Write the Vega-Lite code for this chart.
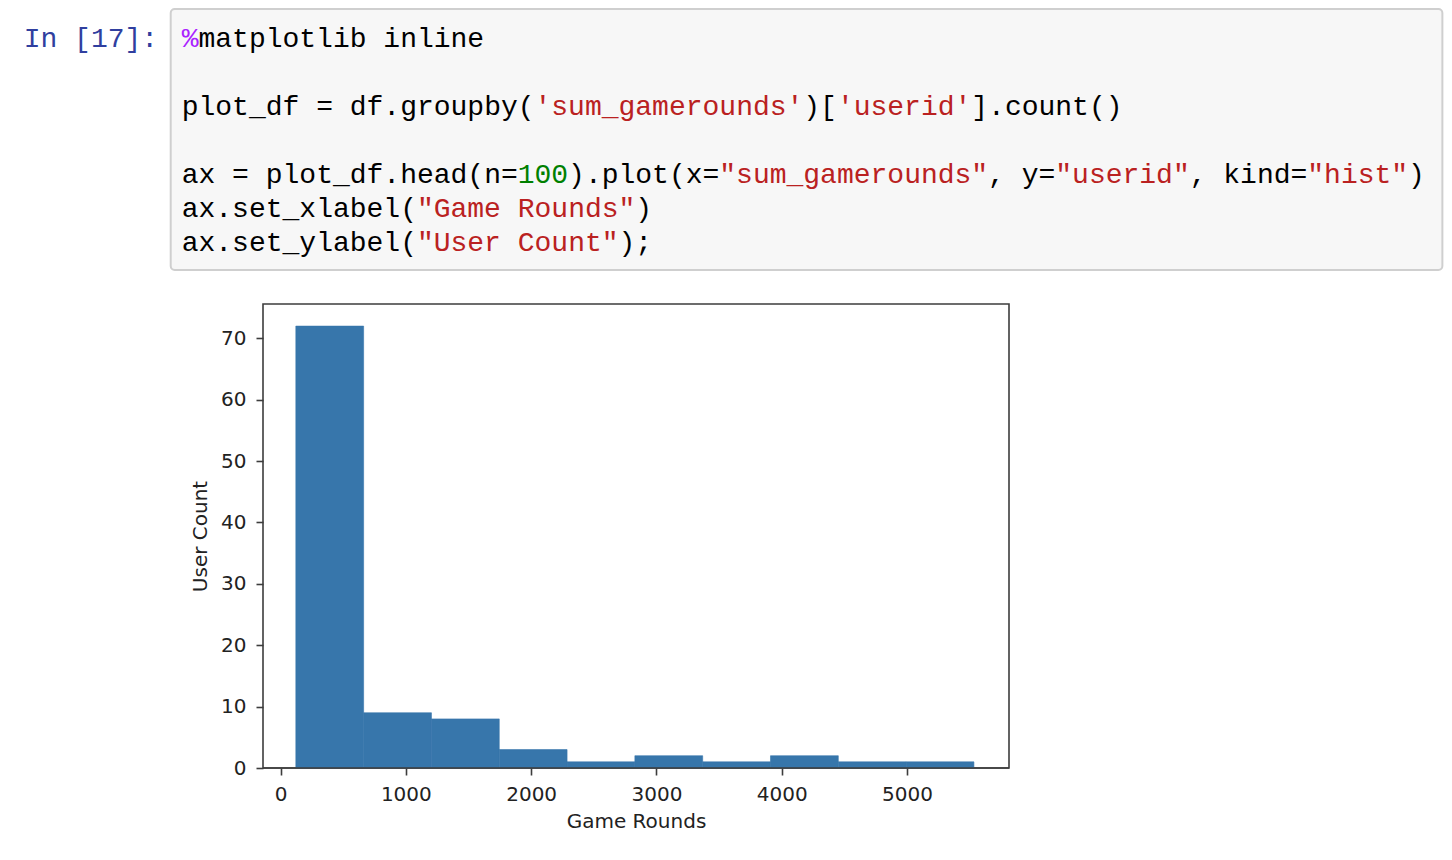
{
  "$schema": "https://vega.github.io/schema/vega-lite/v6.json",
  "background": "white",
  "padding": {"left": 23, "top": 8, "right": 8, "bottom": 8},
  "spacing": 34,
  "bounds": "flush",
  "datasets": {
    "box": [{"x1": -0.655, "x2": 75.04, "y1": -1.118, "y2": 6.559}],
    "code": [
      {"line": 0, "col": -9.405, "text": "In [17]:", "kind": "prompt"},
      {"line": 0, "col": 0, "text": "%", "kind": "magic"},
      {"line": 0, "col": 1, "text": "matplotlib inline", "kind": "plain"},
      {"line": 2, "col": 0, "text": "plot_df = df.groupby(", "kind": "plain"},
      {"line": 2, "col": 21, "text": "'sum_gamerounds'", "kind": "string"},
      {"line": 2, "col": 37, "text": ")[", "kind": "plain"},
      {"line": 2, "col": 39, "text": "'userid'", "kind": "string"},
      {"line": 2, "col": 47, "text": "].count()", "kind": "plain"},
      {"line": 4, "col": 0, "text": "ax = plot_df.head(n=", "kind": "plain"},
      {"line": 4, "col": 20, "text": "100", "kind": "number"},
      {"line": 4, "col": 23, "text": ").plot(x=", "kind": "plain"},
      {"line": 4, "col": 32, "text": "\"sum_gamerounds\"", "kind": "string"},
      {"line": 4, "col": 48, "text": ", y=", "kind": "plain"},
      {"line": 4, "col": 52, "text": "\"userid\"", "kind": "string"},
      {"line": 4, "col": 60, "text": ", kind=", "kind": "plain"},
      {"line": 4, "col": 67, "text": "\"hist\"", "kind": "string"},
      {"line": 4, "col": 73, "text": ")", "kind": "plain"},
      {"line": 5, "col": 0, "text": "ax.set_xlabel(", "kind": "plain"},
      {"line": 5, "col": 14, "text": "\"Game Rounds\"", "kind": "string"},
      {"line": 5, "col": 27, "text": ")", "kind": "plain"},
      {"line": 6, "col": 0, "text": "ax.set_ylabel(", "kind": "plain"},
      {"line": 6, "col": 14, "text": "\"User Count\"", "kind": "string"},
      {"line": 6, "col": 26, "text": ");", "kind": "plain"}
    ],
    "hist": [
      {"bin_start": 122, "bin_end": 663.2, "count": 72},
      {"bin_start": 663.2, "bin_end": 1204.4, "count": 9},
      {"bin_start": 1204.4, "bin_end": 1745.6, "count": 8},
      {"bin_start": 1745.6, "bin_end": 2286.8, "count": 3},
      {"bin_start": 2286.8, "bin_end": 2828, "count": 1},
      {"bin_start": 2828, "bin_end": 3369.2, "count": 2},
      {"bin_start": 3369.2, "bin_end": 3910.4, "count": 1},
      {"bin_start": 3910.4, "bin_end": 4451.6, "count": 2},
      {"bin_start": 4451.6, "bin_end": 4992.8, "count": 1},
      {"bin_start": 4992.8, "bin_end": 5534, "count": 1}
    ],
    "base": [{"zero": 0}]
  },
  "vconcat": [
    {
      "width": 1180,
      "height": 261,
      "view": {"stroke": null},
      "layer": [
        {
          "data": {"name": "box"},
          "mark": {"type": "rect", "fill": "#f7f7f7", "stroke": "#cfcfcf", "strokeWidth": 2, "cornerRadius": 4},
          "encoding": {
            "x": {"field": "x1", "type": "quantitative", "scale": {"domain": [4.839, 75.077], "nice": false, "zero": false}, "axis": null},
            "x2": {"field": "x2"},
            "y": {"field": "y1", "type": "quantitative", "scale": {"domain": [-1.118, 6.559], "nice": false, "zero": false, "reverse": true}, "axis": null},
            "y2": {"field": "y2"}
          }
        },
        {
          "data": {"name": "code"},
          "mark": {"type": "text", "align": "left", "baseline": "alphabetic", "font": "Liberation Mono", "fontSize": 28},
          "encoding": {
            "x": {"field": "col", "type": "quantitative", "scale": {"domain": [4.839, 75.077], "nice": false, "zero": false}, "axis": null},
            "y": {"field": "line", "type": "quantitative", "scale": {"domain": [-1.118, 6.559], "nice": false, "zero": false, "reverse": true}, "axis": null},
            "text": {"field": "text"},
            "color": {
              "field": "kind", "type": "nominal",
              "scale": {"domain": ["prompt", "plain", "string", "number", "magic"], "range": ["#303F9F", "#000000", "#BA2121", "#008000", "#AA22FF"]},
              "legend": null
            }
          }
        }
      ]
    },
    {
      "width": 746,
      "height": 464,
      "layer": [
        {
          "data": {"name": "hist"},
          "mark": {"type": "bar", "color": "#3776ab", "stroke": "#3776ab", "strokeWidth": 0.6},
          "encoding": {
            "x": {
              "field": "bin_start", "type": "quantitative",
              "scale": {"domain": [-140, 5814], "nice": false, "zero": false},
              "axis": {"values": [0, 1000, 2000, 3000, 4000, 5000], "format": "d", "title": "Game Rounds"}
            },
            "x2": {"field": "bin_end"},
            "y": {
              "field": "count", "type": "quantitative",
              "scale": {"domain": [0, 75.6], "nice": false, "padding": 0},
              "axis": {"values": [0, 10, 20, 30, 40, 50, 60, 70], "format": "d", "title": "User Count"}
            },
            "y2": {"datum": 0}
          }
        },
        {
          "data": {"name": "base"},
          "mark": {"type": "rule", "color": "#3d3d3d", "strokeWidth": 1.6},
          "encoding": {"y": {"field": "zero", "type": "quantitative"}}
        }
      ]
    }
  ],
  "config": {
    "view": {"stroke": "#3d3d3d", "strokeWidth": 1.6},
    "axis": {
      "grid": false, "domain": false,
      "labelFont": "DejaVu Sans", "labelFontSize": 20, "labelColor": "#222222",
      "labelOverlap": false, "labelFlush": false,
      "tickColor": "#3d3d3d", "tickSize": 7, "tickWidth": 1.6,
      "titleFont": "DejaVu Sans", "titleFontSize": 20, "titleFontWeight": "normal", "titleColor": "#222222"
    },
    "axisX": {"labelPadding": 9, "titlePadding": 7},
    "axisY": {"labelPadding": 10, "titlePadding": 10}
  }
}
